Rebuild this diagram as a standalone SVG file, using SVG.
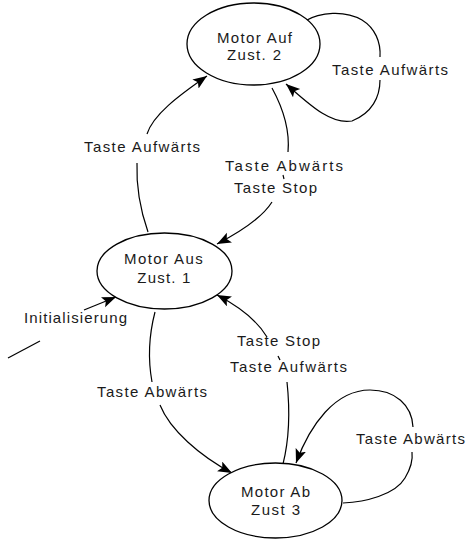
<svg xmlns="http://www.w3.org/2000/svg" width="470" height="539" viewBox="0 0 470 539">
<style>
.node ellipse{fill:#fff;stroke:#000;stroke-width:1.3}
.lbl{font-family:"Liberation Sans",Arial,sans-serif;font-size:15px;fill:#1a1a1a}
.edge path{fill:none;stroke:#000;stroke-width:1.2}
</style>
<defs>
<marker id="arr" markerUnits="userSpaceOnUse" markerWidth="16" markerHeight="12" refX="14" refY="5.5" orient="auto">
<path d="M0,0 L14,5.5 L0,11 L3,5.5 z" fill="#000"/>
</marker>
</defs>
<rect width="470" height="539" fill="#fff"/>
<g id="connectors" class="edge">
<!-- Aus -> Auf (Taste Aufwaerts) -->
<path d="M148,232 C141,212 136,190 137,163"/>
<path d="M147,134 C153,115 178,96 207,76" marker-end="url(#arr)"/>
<!-- Auf -> Aus (Taste Abwaerts / Taste Stop) -->
<path d="M272,88 C284,110 290,130 288,152"/>
<path d="M283,175 L284,179"/>
<path d="M272,202 C262,218 240,232 217,244" marker-end="url(#arr)"/>
<!-- Aus -> Ab (Taste Abwaerts) -->
<path d="M155,312 C149,335 148,360 152,382"/>
<path d="M160,405 C170,430 200,456 232,473" marker-end="url(#arr)"/>
<!-- Ab -> Aus (Taste Stop / Taste Aufwaerts) -->
<path d="M283,464 C289,440 290,410 287,382"/>
<path d="M278,356 L280,360"/>
<path d="M267,337 C258,322 242,308 217,295" marker-end="url(#arr)"/>
<!-- Auf self loop -->
<path d="M305,21 C320,12 345,10 362,20 C375,28 381,42 380,57"/>
<path d="M380,80 C380,97 372,113 352,121 C330,125 308,103 286,84" marker-end="url(#arr)"/>
<!-- Ab self loop -->
<path d="M343,503 C365,502 395,495 405,478 C411,468 413,460 412,452"/>
<path d="M413,427 C412,405 395,390 370,390 C335,390 310,425 296,463" marker-end="url(#arr)"/>
<!-- Initialisierung -->
<path d="M8,358 L40,341"/>
<path d="M84,310 L116,297" marker-end="url(#arr)"/>
</g>
<g id="labels">
<text class="lbl" x="84" y="151.5" textLength="116" lengthAdjust="spacing">Taste Aufwärts</text>
<text class="lbl" x="225" y="171" textLength="118" lengthAdjust="spacing">Taste Abwärts</text>
<text class="lbl" x="234" y="193" textLength="83" lengthAdjust="spacing">Taste Stop</text>
<text class="lbl" x="332" y="75" textLength="116" lengthAdjust="spacing">Taste Aufwärts</text>
<text class="lbl" x="24" y="323" textLength="103" lengthAdjust="spacing">Initialisierung</text>
<text class="lbl" x="97" y="397" textLength="110" lengthAdjust="spacing">Taste Abwärts</text>
<text class="lbl" x="237" y="346" textLength="83" lengthAdjust="spacing">Taste Stop</text>
<text class="lbl" x="230" y="372" textLength="117" lengthAdjust="spacing">Taste Aufwärts</text>
<text class="lbl" x="356" y="444" textLength="109" lengthAdjust="spacing">Taste Abwärts</text>
</g>
<g id="motor_auf" class="node">
<ellipse cx="253.5" cy="44" rx="66.5" ry="41"/>
<text class="lbl" x="217" y="42.7" textLength="75" lengthAdjust="spacing">Motor Auf</text>
<text class="lbl" x="227" y="60" textLength="54" lengthAdjust="spacing">Zust. 2</text>
</g>
<g id="motor_aus" class="node">
<ellipse cx="164.5" cy="271" rx="67.5" ry="38"/>
<text class="lbl" x="124" y="264" textLength="78.7" lengthAdjust="spacing">Motor Aus</text>
<text class="lbl" x="137.3" y="283.3" textLength="53" lengthAdjust="spacing">Zust. 1</text>
</g>
<g id="motor_ab" class="node">
<ellipse cx="275.5" cy="500.5" rx="66.5" ry="37.5"/>
<text class="lbl" x="241" y="497.3" textLength="69" lengthAdjust="spacing">Motor Ab</text>
<text class="lbl" x="251" y="515" textLength="49" lengthAdjust="spacing">Zust 3</text>
</g>
</svg>
